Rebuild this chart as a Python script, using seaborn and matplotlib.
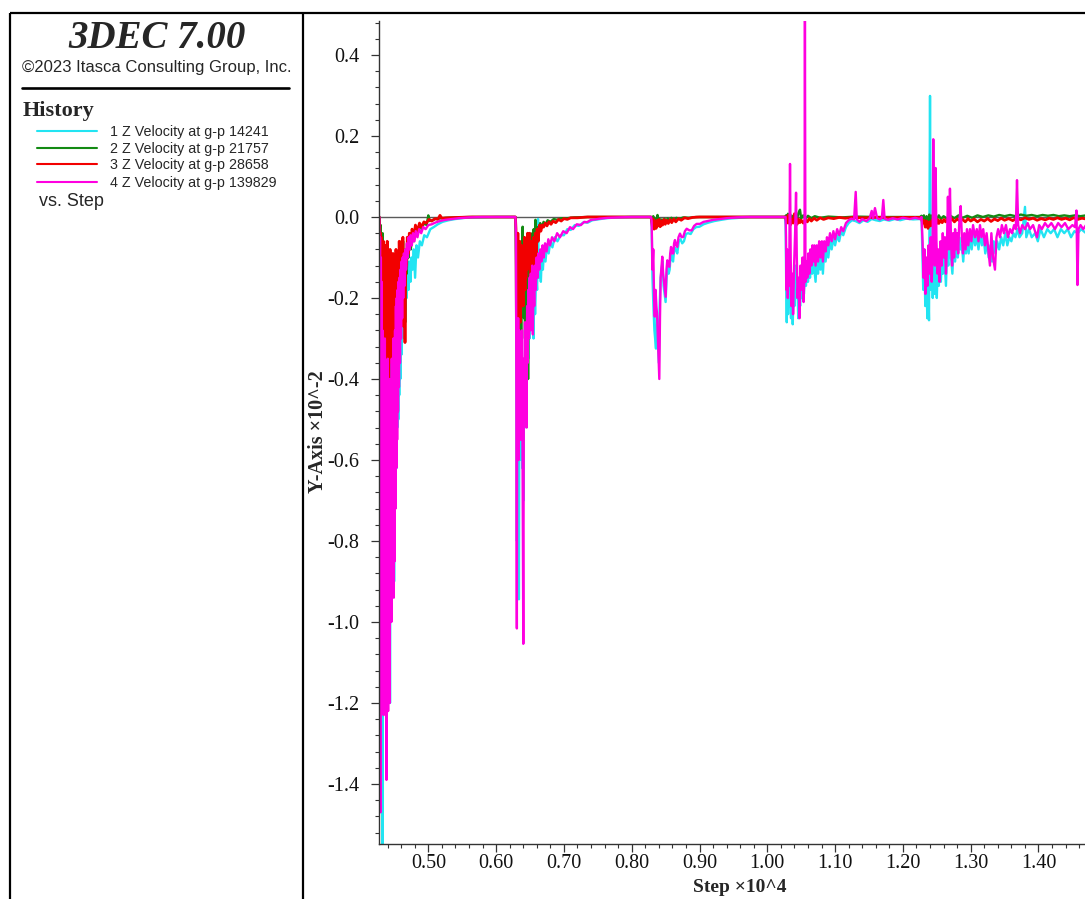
import matplotlib
matplotlib.use("Agg")
import matplotlib.pyplot as plt
import seaborn as sns
import pandas as pd
from matplotlib.lines import Line2D
from matplotlib.ticker import MultipleLocator, FormatStrFormatter

# ---------------- data (Step x10^4, Z velocity x10^-2) ----------------
SERIES_NAMES = ["1 Z Velocity at g-p 14241", "2 Z Velocity at g-p 21757",
                "3 Z Velocity at g-p 28658", "4 Z Velocity at g-p 139829"]
SERIES_COLORS = ["#22E4F2", "#138A13", "#F20000", "#FF00E0"]
SERIES_WIDTHS = [1.7, 1.7, 2.0, 1.7]

# history 1 (cyan)
hist1 = [
    (0.4277, 0.0), (0.4283, -0.50), (0.4289, -0.08), (0.4296, -1.30), (0.4302, -0.12), (0.4309, -1.10),
    (0.4315, -0.20), (0.4321, -1.25), (0.4327, -1.55), (0.4333, -0.30), (0.4339, -1.18), (0.4345, -0.32),
    (0.4351, -1.05), (0.4357, -0.34), (0.4363, -1.20), (0.4369, -0.36), (0.4375, -0.98), (0.4381, -0.40),
    (0.4387, -1.22), (0.4393, -0.38), (0.4399, -1.05), (0.4405, -0.42), (0.4411, -1.18), (0.4417, -0.40),
    (0.4423, -1.00), (0.4429, -0.44), (0.4435, -1.20), (0.4441, -0.40), (0.4447, -0.92), (0.4453, -0.36),
    (0.4459, -0.98), (0.4465, -0.34), (0.4471, -0.85), (0.4477, -0.38), (0.4483, -0.82), (0.4489, -0.30),
    (0.4495, -0.90), (0.4501, -0.35), (0.4507, -0.67), (0.4513, -0.30), (0.4519, -0.50), (0.4525, -0.24),
    (0.4531, -0.62), (0.4537, -0.24), (0.4543, -0.52), (0.4550, -0.25), (0.4557, -0.50), (0.4564, -0.20),
    (0.4571, -0.44), (0.4579, -0.22), (0.4587, -0.40), (0.4595, -0.18), (0.4603, -0.34), (0.4611, -0.20),
    (0.4620, -0.30), (0.4629, -0.16), (0.4638, -0.26), (0.4648, -0.15), (0.4658, -0.23), (0.4669, -0.14),
    (0.4681, -0.20), (0.4694, -0.12), (0.4708, -0.18), (0.4722, -0.11), (0.4737, -0.16), (0.4752, -0.10),
    (0.4768, -0.13), (0.4785, -0.08), (0.4805, -0.15), (0.4825, -0.07), (0.4848, -0.10), (0.4875, -0.06),
    (0.4905, -0.07), (0.4940, -0.045), (0.4980, -0.05), (0.5030, -0.03), (0.5080, -0.025), (0.5140, -0.018),
    (0.5210, -0.012), (0.5300, -0.008), (0.5400, -0.005), (0.5550, -0.002), (0.5800, -0.001), (0.6000, 0.0),
    (0.6285, 0.0),
    (0.6293, -0.10), (0.6300, -0.45), (0.6307, -0.80), (0.6314, -0.33), (0.6321, -0.62), (0.6328, -0.25),
    (0.6336, -0.944), (0.6344, -0.40), (0.6352, -0.60), (0.6360, -0.30), (0.6368, -0.50), (0.6376, -0.33),
    (0.6385, -0.62), (0.6394, -0.42), (0.6403, -0.70), (0.6412, -0.38), (0.6420, -0.52), (0.6428, -0.28),
    (0.6436, -0.45), (0.6445, -0.25), (0.6454, -0.40), (0.6463, -0.22), (0.6472, -0.35), (0.6482, -0.18),
    (0.6492, -0.30), (0.6502, -0.16), (0.6512, -0.28), (0.6522, -0.14), (0.6532, -0.25), (0.6542, -0.12),
    (0.6552, -0.30), (0.6562, -0.16), (0.6575, -0.24), (0.6590, -0.14), (0.6605, -0.18), (0.6618, -0.005),
    (0.6630, -0.15), (0.6645, -0.13), (0.6660, -0.16), (0.6675, -0.09), (0.6690, -0.13), (0.6708, -0.08),
    (0.6728, -0.11), (0.6750, -0.07), (0.6775, -0.09), (0.6800, -0.06), (0.6830, -0.075), (0.6865, -0.05),
    (0.6905, -0.06), (0.6950, -0.045), (0.7000, -0.045), (0.7050, -0.03), (0.7100, -0.032), (0.7160, -0.02),
    (0.7220, -0.022), (0.7290, -0.013), (0.7350, -0.014), (0.7420, -0.008), (0.7500, -0.006), (0.7620, -0.003),
    (0.7780, -0.001), (0.8000, 0.0), (0.8285, 0.0),
    (0.8294, -0.02), (0.8306, -0.15), (0.8320, -0.22), (0.8335, -0.28), (0.8350, -0.31), (0.8358, -0.325),
    (0.8370, -0.24), (0.8385, -0.30), (0.8400, -0.36), (0.8412, -0.22), (0.8427, -0.15), (0.8440, -0.13),
    (0.8455, -0.11), (0.8470, -0.17), (0.8485, -0.19), (0.8500, -0.21), (0.8515, -0.15), (0.8530, -0.12),
    (0.8545, -0.14), (0.8560, -0.13), (0.8575, -0.09), (0.8590, -0.10), (0.8610, -0.11), (0.8630, -0.075),
    (0.8650, -0.08), (0.8672, -0.09), (0.8695, -0.06), (0.8720, -0.055), (0.8745, -0.065), (0.8770, -0.06),
    (0.8800, -0.042), (0.8830, -0.04), (0.8870, -0.042), (0.8910, -0.03), (0.8950, -0.025), (0.9000, -0.024),
    (0.9060, -0.018), (0.9130, -0.014), (0.9220, -0.01), (0.9320, -0.007), (0.9430, -0.004), (0.9580, -0.002),
    (0.9750, 0.0), (1.0260, 0.0),
    (1.0270, -0.02), (1.0278, -0.15), (1.0287, -0.26), (1.0296, -0.12), (1.0306, -0.24), (1.0316, -0.14),
    (1.0326, -0.22), (1.0338, -0.18), (1.0350, -0.25), (1.0362, -0.15), (1.0375, -0.265), (1.0388, -0.18),
    (1.0400, -0.22), (1.0414, -0.12), (1.0428, -0.20), (1.0442, -0.15), (1.0456, -0.25), (1.0470, -0.18),
    (1.0484, -0.22), (1.0498, -0.16), (1.0512, -0.20), (1.0526, -0.14), (1.0540, -0.19), (1.0555, -0.13),
    (1.0570, -0.17), (1.0585, -0.12), (1.0600, -0.16), (1.0615, -0.11), (1.0630, -0.15), (1.0646, -0.10),
    (1.0662, -0.14), (1.0678, -0.10), (1.0695, -0.13), (1.0712, -0.16), (1.0730, -0.10), (1.0748, -0.14),
    (1.0765, -0.09), (1.0785, -0.13), (1.0805, -0.08), (1.0820, -0.14), (1.0840, -0.08), (1.0860, -0.11),
    (1.0880, -0.07), (1.0900, -0.10), (1.0925, -0.06), (1.0950, -0.08), (1.0975, -0.05), (1.1000, -0.07),
    (1.1030, -0.045), (1.1060, -0.06), (1.1090, -0.035), (1.1120, -0.045), (1.1160, -0.025), (1.1200, -0.015),
    (1.1250, -0.008), (1.1300, -0.01), (1.1360, -0.015), (1.1420, -0.008), (1.1480, -0.012), (1.1540, -0.005),
    (1.1600, -0.008), (1.1660, -0.01), (1.1720, -0.006), (1.1800, -0.009), (1.1880, -0.005), (1.1960, -0.008),
    (1.2050, -0.004), (1.2150, -0.006), (1.2252, -0.005),
    (1.2275, 0.0), (1.2288, -0.10), (1.2300, -0.18), (1.2315, -0.08), (1.2330, -0.22), (1.2345, -0.12),
    (1.2360, -0.25), (1.2372, -0.15), (1.2385, -0.255), (1.2400, 0.299), (1.2412, -0.18), (1.2425, -0.10),
    (1.2440, -0.20), (1.2455, -0.12), (1.2470, -0.19), (1.2485, -0.09), (1.2500, -0.20), (1.2515, -0.11),
    (1.2530, -0.17), (1.2546, -0.08), (1.2560, -0.16), (1.2575, -0.10), (1.2590, -0.14), (1.2605, -0.07),
    (1.2620, -0.12), (1.2635, -0.17), (1.2650, -0.09), (1.2670, -0.12), (1.2690, -0.06), (1.2710, -0.10),
    (1.2730, -0.14), (1.2750, -0.07), (1.2770, -0.11), (1.2790, -0.06), (1.2810, -0.10), (1.2830, -0.05),
    (1.2850, -0.08), (1.2870, -0.07), (1.2890, -0.11), (1.2910, -0.06), (1.2930, -0.09), (1.2950, -0.05),
    (1.2970, -0.09), (1.2990, -0.05), (1.3015, -0.08), (1.3040, -0.04), (1.3065, -0.07), (1.3090, -0.05),
    (1.3115, -0.08), (1.3140, -0.04), (1.3165, -0.07), (1.3190, -0.05), (1.3215, -0.09), (1.3240, -0.06),
    (1.3265, -0.10), (1.3290, -0.07), (1.3315, -0.11), (1.3340, -0.06), (1.3365, -0.09), (1.3390, -0.06),
    (1.3420, -0.08), (1.3450, -0.05), (1.3480, -0.07), (1.3510, -0.04), (1.3540, -0.07), (1.3570, -0.05),
    (1.3600, -0.06), (1.3630, -0.04), (1.3660, -0.05), (1.3690, -0.03), (1.3720, -0.05), (1.3760, -0.04),
    (1.3801, 0.025), (1.3820, -0.05), (1.3860, -0.03), (1.3900, -0.05), (1.3950, -0.04), (1.3990, -0.06),
    (1.4030, -0.03), (1.4080, -0.05), (1.4130, -0.03), (1.4180, -0.04), (1.4230, -0.03), (1.4280, -0.05),
    (1.4330, -0.03), (1.4380, -0.04), (1.4430, -0.03), (1.4480, -0.05), (1.4530, -0.035), (1.4580, -0.04),
    (1.4630, -0.03), (1.4700, -0.04), (1.4760, -0.035),
]

# history 2 (green)
hist2 = [
    (0.4277, 0.0), (0.4284, -0.05), (0.4291, -0.22), (0.4298, -0.02), (0.4305, -0.30), (0.4312, -0.08),
    (0.4319, -0.26), (0.4326, -0.04), (0.4333, -0.38), (0.4340, -0.10), (0.4347, -0.42), (0.4354, -0.15),
    (0.4361, -0.33), (0.4368, -0.09), (0.4375, -0.48), (0.4382, -0.20), (0.4389, -0.51), (0.4396, -0.10),
    (0.4403, -0.34), (0.4410, -0.16), (0.4417, -0.40), (0.4424, -0.18), (0.4431, -0.35), (0.4438, -0.10),
    (0.4445, -0.32), (0.4452, -0.15), (0.4459, -0.40), (0.4466, -0.18), (0.4473, -0.30), (0.4480, -0.12),
    (0.4487, -0.26), (0.4494, -0.14), (0.4501, -0.34), (0.4509, -0.16), (0.4517, -0.40), (0.4525, -0.12),
    (0.4533, -0.22), (0.4541, -0.10), (0.4549, -0.30), (0.4557, -0.12), (0.4565, -0.24), (0.4573, -0.08),
    (0.4582, -0.20), (0.4591, -0.10), (0.4600, -0.22), (0.4609, -0.08), (0.4618, -0.16), (0.4628, -0.06),
    (0.4638, -0.24), (0.4648, -0.10), (0.4659, -0.26), (0.4670, -0.10), (0.4682, -0.14), (0.4694, -0.06),
    (0.4708, -0.10), (0.4723, -0.05), (0.4742, -0.08), (0.4762, -0.04), (0.4787, -0.06), (0.4812, -0.03),
    (0.4842, -0.04), (0.4872, -0.02), (0.4902, -0.03), (0.4937, -0.015), (0.4975, -0.02), (0.5000, 0.004),
    (0.5020, -0.01), (0.5060, -0.008), (0.5100, -0.005), (0.5150, -0.004), (0.5250, -0.002), (0.5400, -0.001),
    (0.5600, 0.0), (0.6285, 0.0),
    (0.6293, -0.05), (0.6300, -0.22), (0.6307, -0.10), (0.6314, -0.31), (0.6321, -0.06), (0.6328, -0.26),
    (0.6335, -0.12), (0.6342, -0.34), (0.6349, -0.08), (0.6356, -0.20), (0.6363, -0.14), (0.6370, -0.28),
    (0.6377, -0.06), (0.6384, -0.18), (0.6391, -0.024), (0.6398, -0.20), (0.6405, -0.10), (0.6412, -0.25),
    (0.6419, -0.08), (0.6426, -0.30), (0.6433, -0.12), (0.6440, -0.22), (0.6448, -0.08), (0.6456, -0.33),
    (0.6464, -0.15), (0.6472, -0.40), (0.6480, -0.12), (0.6488, -0.22), (0.6496, -0.06), (0.6505, -0.18),
    (0.6514, -0.05), (0.6523, -0.15), (0.6533, -0.04), (0.6543, -0.12), (0.6554, -0.03), (0.6566, -0.08),
    (0.6580, -0.007), (0.6595, -0.05), (0.6610, -0.025), (0.6630, -0.035), (0.6650, -0.015), (0.6675, -0.025),
    (0.6700, -0.012), (0.6730, -0.018), (0.6760, -0.008), (0.6800, -0.012), (0.6850, -0.005), (0.6900, -0.007),
    (0.6960, -0.003), (0.7050, -0.003), (0.7150, -0.001), (0.7350, 0.0), (0.8285, 0.0),
    (0.8294, -0.005), (0.8305, -0.02), (0.8318, 0.002), (0.8330, -0.025), (0.8345, -0.005), (0.8360, -0.02),
    (0.8380, 0.005), (0.8395, -0.015), (0.8410, -0.004), (0.8428, -0.02), (0.8445, -0.006), (0.8465, -0.016),
    (0.8485, -0.004), (0.8505, -0.014), (0.8530, -0.003), (0.8555, -0.01), (0.8585, -0.002), (0.8620, -0.008),
    (0.8660, -0.002), (0.8700, -0.005), (0.8760, -0.001), (0.8850, -0.002), (0.8950, 0.0), (1.0260, 0.0),
    (1.0276, 0.004), (1.0290, -0.01), (1.0305, 0.008), (1.0320, -0.005), (1.0340, 0.006), (1.0360, -0.008),
    (1.0380, 0.003), (1.0400, -0.006), (1.0420, 0.008), (1.0440, -0.004), (1.0460, 0.010), (1.0482, 0.018),
    (1.0500, -0.004), (1.0530, 0.004), (1.0560, -0.005), (1.0600, 0.003), (1.0650, -0.003), (1.0700, 0.002),
    (1.0780, -0.002), (1.0900, 0.001), (1.1100, -0.001), (1.1300, 0.001), (1.1600, 0.0), (1.2252, 0.0),
    (1.2275, 0.003), (1.2292, -0.01), (1.2310, 0.004), (1.2330, -0.012), (1.2350, 0.002), (1.2370, -0.015),
    (1.2390, 0.006), (1.2410, -0.008), (1.2430, 0.004), (1.2450, -0.01), (1.2470, 0.003), (1.2500, -0.006),
    (1.2530, 0.004), (1.2560, -0.005), (1.2600, 0.002), (1.2650, -0.004), (1.2700, 0.003), (1.2760, -0.003),
    (1.2820, 0.004), (1.2880, -0.002), (1.2950, 0.003), (1.3020, -0.002), (1.3100, 0.004), (1.3180, 0.0),
    (1.3260, 0.004), (1.3340, 0.001), (1.3420, 0.005), (1.3500, 0.002), (1.3580, 0.005), (1.3660, 0.002),
    (1.3740, 0.006), (1.3820, 0.003), (1.3900, 0.005), (1.3980, 0.002), (1.4060, 0.005), (1.4140, 0.003),
    (1.4220, 0.005), (1.4300, 0.002), (1.4380, 0.004), (1.4460, 0.002), (1.4540, 0.004), (1.4620, 0.002),
    (1.4700, 0.004), (1.4760, 0.003),
]

# history 3 (red)
hist3 = [
    (0.4277, 0.0), (0.4283, -0.02), (0.4290, -0.28), (0.4296, -0.04), (0.4303, -0.33), (0.4310, -0.05),
    (0.4317, -0.30), (0.4324, -0.10), (0.4331, -0.40), (0.4338, -0.06), (0.4345, -0.46), (0.4352, -0.12),
    (0.4359, -0.28), (0.4366, -0.07), (0.4373, -0.51), (0.4380, -0.15), (0.4387, -0.36), (0.4394, -0.06),
    (0.4401, -0.30), (0.4408, -0.12), (0.4415, -0.44), (0.4422, -0.14), (0.4429, -0.32), (0.4436, -0.08),
    (0.4443, -0.29), (0.4450, -0.12), (0.4457, -0.36), (0.4464, -0.16), (0.4471, -0.26), (0.4478, -0.09),
    (0.4485, -0.22), (0.4492, -0.10), (0.4499, -0.30), (0.4507, -0.13), (0.4515, -0.24), (0.4523, -0.08),
    (0.4531, -0.20), (0.4539, -0.10), (0.4547, -0.28), (0.4555, -0.09), (0.4563, -0.20), (0.4571, -0.06),
    (0.4580, -0.15), (0.4589, -0.07), (0.4598, -0.18), (0.4607, -0.06), (0.4616, -0.12), (0.4625, -0.05),
    (0.4635, -0.27), (0.4645, -0.09), (0.4656, -0.31), (0.4667, -0.08), (0.4678, -0.12), (0.4690, -0.05),
    (0.4705, -0.09), (0.4720, -0.04), (0.4740, -0.07), (0.4760, -0.03), (0.4785, -0.05), (0.4810, -0.02),
    (0.4840, -0.035), (0.4870, -0.015), (0.4900, -0.025), (0.4935, -0.012), (0.4970, -0.015), (0.5010, -0.006),
    (0.5050, -0.01), (0.5100, -0.004), (0.5140, -0.006), (0.5172, 0.004), (0.5200, -0.003), (0.5300, -0.002),
    (0.5450, -0.001), (0.5650, 0.0), (0.6285, 0.0),
    (0.6293, -0.03), (0.6300, -0.28), (0.6307, -0.08), (0.6314, -0.22), (0.6321, -0.04), (0.6328, -0.30),
    (0.6335, -0.10), (0.6342, -0.18), (0.6349, -0.06), (0.6356, -0.26), (0.6363, -0.12), (0.6370, -0.20),
    (0.6377, -0.07), (0.6384, -0.16), (0.6391, -0.09), (0.6398, -0.22), (0.6405, -0.08), (0.6412, -0.14),
    (0.6419, -0.05), (0.6426, -0.18), (0.6433, -0.10), (0.6440, -0.15), (0.6448, -0.06), (0.6456, -0.13),
    (0.6464, -0.04), (0.6472, -0.12), (0.6480, -0.07), (0.6488, -0.10), (0.6496, -0.04), (0.6505, -0.20),
    (0.6514, -0.06), (0.6523, -0.25), (0.6533, -0.08), (0.6543, -0.18), (0.6554, -0.05), (0.6566, -0.14),
    (0.6578, -0.04), (0.6590, -0.10), (0.6605, -0.03), (0.6620, -0.06), (0.6640, -0.02), (0.6660, -0.035),
    (0.6680, -0.02), (0.6700, -0.025), (0.6725, -0.015), (0.6750, -0.022), (0.6780, -0.012), (0.6810, -0.018),
    (0.6840, -0.01), (0.6880, -0.014), (0.6920, -0.006), (0.6960, -0.01), (0.7000, -0.004), (0.7050, -0.006),
    (0.7100, -0.002), (0.7200, -0.002), (0.7350, 0.0), (0.8285, 0.0),
    (0.8294, -0.01), (0.8305, -0.025), (0.8318, -0.005), (0.8330, -0.03), (0.8345, -0.01), (0.8360, -0.028),
    (0.8375, -0.008), (0.8390, -0.022), (0.8405, -0.006), (0.8420, -0.024), (0.8438, -0.01), (0.8455, -0.02),
    (0.8475, -0.006), (0.8495, -0.018), (0.8515, -0.008), (0.8540, -0.016), (0.8565, -0.006), (0.8590, -0.014),
    (0.8620, -0.005), (0.8650, -0.012), (0.8690, -0.004), (0.8730, -0.008), (0.8780, -0.002), (0.8830, -0.004),
    (0.8900, -0.001), (0.9000, 0.0), (1.0260, 0.0),
    (1.0276, -0.005), (1.0290, -0.015), (1.0305, 0.004), (1.0320, -0.012), (1.0340, -0.02), (1.0360, -0.006),
    (1.0380, -0.015), (1.0400, 0.008), (1.0420, -0.01), (1.0440, -0.018), (1.0460, -0.005), (1.0480, -0.014),
    (1.0500, -0.008), (1.0530, -0.015), (1.0560, -0.006), (1.0590, -0.012), (1.0620, -0.004), (1.0650, -0.01),
    (1.0690, -0.003), (1.0730, -0.008), (1.0780, -0.002), (1.0830, -0.006), (1.0900, -0.002), (1.0980, -0.004),
    (1.1060, -0.001), (1.1150, -0.003), (1.1250, -0.001), (1.1400, -0.002), (1.1600, -0.001), (1.1800, -0.002),
    (1.2000, -0.001), (1.2252, -0.001),
    (1.2275, -0.004), (1.2292, -0.015), (1.2310, -0.008), (1.2330, -0.025), (1.2350, -0.01), (1.2370, -0.028),
    (1.2390, -0.012), (1.2410, -0.022), (1.2430, -0.008), (1.2450, -0.02), (1.2470, -0.01), (1.2490, -0.018),
    (1.2510, -0.006), (1.2530, -0.016), (1.2555, -0.008), (1.2580, -0.014), (1.2605, -0.006), (1.2630, -0.012),
    (1.2660, -0.005), (1.2690, -0.01), (1.2720, -0.004), (1.2760, -0.012), (1.2800, -0.005), (1.2840, -0.01),
    (1.2880, -0.006), (1.2920, -0.012), (1.2960, -0.004), (1.3000, -0.01), (1.3050, -0.005), (1.3100, -0.012),
    (1.3150, -0.006), (1.3200, -0.01), (1.3250, -0.004), (1.3300, -0.011), (1.3350, -0.005), (1.3400, -0.009),
    (1.3450, -0.003), (1.3500, -0.008), (1.3560, -0.004), (1.3620, -0.009), (1.3680, -0.003), (1.3740, -0.007),
    (1.3800, -0.002), (1.3860, -0.006), (1.3920, -0.003), (1.3980, -0.008), (1.4040, -0.004), (1.4100, -0.007),
    (1.4160, -0.003), (1.4220, -0.006), (1.4280, -0.002), (1.4340, -0.006), (1.4400, -0.003), (1.4460, -0.007),
    (1.4520, -0.002), (1.4580, -0.006), (1.4640, -0.003), (1.4700, -0.005), (1.4760, -0.004),
]

# history 4 (magenta)
hist4 = [
    (0.4277, 0.0), (0.4282, -0.60), (0.4287, -0.05), (0.4295, -1.47), (0.4300, -0.10), (0.4306, -1.05),
    (0.4311, -0.16), (0.4317, -1.20), (0.4323, -0.28), (0.4329, -1.10), (0.4335, -0.32), (0.4341, -1.23),
    (0.4347, -0.35), (0.4353, -1.05), (0.4359, -0.30), (0.4365, -1.15), (0.4371, -0.38), (0.4377, -1.00),
    (0.4383, -1.39), (0.4389, -0.42), (0.4395, -1.10), (0.4401, -0.35), (0.4407, -1.22), (0.4413, -0.45),
    (0.4419, -1.05), (0.4425, -0.40), (0.4431, -1.20), (0.4437, -0.50), (0.4443, -0.95), (0.4449, -0.42),
    (0.4455, -1.00), (0.4461, -0.35), (0.4467, -0.90), (0.4473, -0.38), (0.4479, -0.80), (0.4485, -0.30),
    (0.4491, -0.94), (0.4497, -0.32), (0.4503, -0.85), (0.4509, -0.28), (0.4516, -0.72), (0.4522, -0.22),
    (0.4528, -0.62), (0.4534, -0.20), (0.4540, -0.55), (0.4547, -0.18), (0.4553, -0.48), (0.4560, -0.16),
    (0.4567, -0.42), (0.4574, -0.15), (0.4582, -0.36), (0.4590, -0.13), (0.4598, -0.30), (0.4606, -0.11),
    (0.4614, -0.25), (0.4622, -0.10), (0.4630, -0.20), (0.4640, -0.09), (0.4650, -0.17), (0.4660, -0.08),
    (0.4672, -0.13), (0.4684, -0.065), (0.4696, -0.10), (0.4710, -0.05), (0.4725, -0.08), (0.4740, -0.045),
    (0.4757, -0.07), (0.4775, -0.04), (0.4795, -0.06), (0.4815, -0.035), (0.4840, -0.05), (0.4865, -0.03),
    (0.4895, -0.04), (0.4925, -0.025), (0.4960, -0.03), (0.5000, -0.02), (0.5050, -0.018), (0.5100, -0.014),
    (0.5170, -0.01), (0.5250, -0.007), (0.5350, -0.005), (0.5450, -0.003), (0.5600, -0.001), (0.5800, 0.0),
    (0.6285, 0.0),
    (0.6293, -0.05), (0.6300, -0.62), (0.6306, -1.016), (0.6312, -0.30), (0.6318, -0.58), (0.6325, -0.25),
    (0.6332, -0.60), (0.6339, -0.28), (0.6346, -0.48), (0.6353, -0.30), (0.6360, -0.55), (0.6367, -0.30),
    (0.6374, -0.44), (0.6381, -0.28), (0.6390, -0.60), (0.6401, -1.054), (0.6410, -0.35), (0.6418, -0.50),
    (0.6426, -0.26), (0.6434, -0.46), (0.6442, -0.28), (0.6450, -0.52), (0.6458, -0.22), (0.6466, -0.36),
    (0.6475, -0.18), (0.6484, -0.30), (0.6493, -0.15), (0.6502, -0.28), (0.6512, -0.14), (0.6522, -0.26),
    (0.6532, -0.12), (0.6542, -0.29), (0.6552, -0.15), (0.6562, -0.22), (0.6573, -0.12), (0.6585, -0.18),
    (0.6597, -0.10), (0.6610, -0.15), (0.6623, -0.09), (0.6637, -0.13), (0.6652, -0.08), (0.6668, -0.11),
    (0.6685, -0.07), (0.6702, -0.10), (0.6722, -0.065), (0.6745, -0.085), (0.6770, -0.055), (0.6795, -0.07),
    (0.6825, -0.05), (0.6860, -0.06), (0.6900, -0.04), (0.6942, -0.05), (0.6990, -0.035), (0.7040, -0.04),
    (0.7090, -0.025), (0.7134, -0.03), (0.7190, -0.018), (0.7250, -0.02), (0.7300, -0.012), (0.7340, -0.013),
    (0.7400, -0.007), (0.7460, -0.006), (0.7532, -0.004), (0.7650, -0.002), (0.7800, -0.001), (0.8000, 0.0),
    (0.8285, 0.0),
    (0.8294, -0.01), (0.8306, -0.13), (0.8318, -0.08), (0.8330, -0.20), (0.8340, -0.246), (0.8352, -0.18),
    (0.8364, -0.22), (0.8374, -0.24), (0.8390, -0.32), (0.8407, -0.40), (0.8417, -0.25), (0.8427, -0.15),
    (0.8440, -0.12), (0.8451, -0.098), (0.8463, -0.14), (0.8476, -0.16), (0.8490, -0.18), (0.8501, -0.197),
    (0.8513, -0.13), (0.8525, -0.107), (0.8540, -0.12), (0.8555, -0.123), (0.8568, -0.09), (0.8580, -0.074),
    (0.8597, -0.09), (0.8613, -0.09), (0.8625, -0.065), (0.8638, -0.057), (0.8655, -0.07), (0.8672, -0.074),
    (0.8690, -0.05), (0.8712, -0.041), (0.8735, -0.05), (0.8761, -0.049), (0.8785, -0.035), (0.8811, -0.029),
    (0.8850, -0.033), (0.8885, -0.033), (0.8920, -0.022), (0.8958, -0.017), (0.9007, -0.017), (0.9060, -0.012),
    (0.9120, -0.01), (0.9200, -0.007), (0.9300, -0.005), (0.9400, -0.003), (0.9550, -0.001), (0.9700, 0.0),
    (1.0260, 0.0),
    (1.0270, 0.0), (1.0276, -0.05), (1.0282, -0.18), (1.0292, -0.08), (1.0302, -0.20), (1.0312, -0.12),
    (1.0322, -0.17), (1.0335, 0.131), (1.0345, -0.10), (1.0355, -0.22), (1.0368, -0.14), (1.0380, -0.24),
    (1.0395, -0.12), (1.0410, -0.04), (1.0424, 0.060), (1.0435, -0.10), (1.0447, -0.20), (1.0460, -0.15),
    (1.0475, -0.25), (1.0490, -0.12), (1.0505, -0.18), (1.0520, -0.10), (1.0535, -0.21), (1.0548, -0.14),
    (1.0555, 0.485), (1.0563, -0.16), (1.0575, -0.11), (1.0590, -0.15), (1.0605, -0.09), (1.0620, -0.14),
    (1.0635, -0.08), (1.0650, -0.12), (1.0665, -0.07), (1.0680, -0.11), (1.0695, -0.07), (1.0712, -0.12),
    (1.0730, -0.07), (1.0748, -0.11), (1.0765, -0.06), (1.0785, -0.10), (1.0805, -0.06), (1.0820, -0.11),
    (1.0840, -0.06), (1.0860, -0.085), (1.0880, -0.05), (1.0900, -0.07), (1.0925, -0.04), (1.0950, -0.06),
    (1.0975, -0.035), (1.1000, -0.055), (1.1030, -0.03), (1.1060, -0.045), (1.1090, -0.025), (1.1120, -0.035),
    (1.1160, -0.015), (1.1200, -0.008), (1.1240, -0.004), (1.1280, -0.006), (1.1304, 0.062), (1.1320, -0.006),
    (1.1360, -0.012), (1.1400, -0.005), (1.1460, -0.01), (1.1510, -0.003), (1.1540, 0.015), (1.1560, -0.004),
    (1.1588, 0.022), (1.1620, -0.003), (1.1660, -0.006), (1.1690, -0.002), (1.1711, 0.042), (1.1730, -0.004),
    (1.1780, -0.007), (1.1850, -0.003), (1.1920, -0.006), (1.2000, -0.002), (1.2100, -0.005), (1.2180, -0.002),
    (1.2252, -0.005),
    (1.2275, 0.0), (1.2290, -0.06), (1.2305, -0.15), (1.2318, -0.08), (1.2332, -0.19), (1.2348, -0.10),
    (1.2362, -0.17), (1.2378, -0.07), (1.2392, -0.14), (1.2410, -0.05), (1.2425, -0.16), (1.2438, -0.09),
    (1.2448, 0.192), (1.2460, -0.07), (1.2472, -0.12), (1.2483, 0.121), (1.2495, -0.06), (1.2510, -0.14),
    (1.2525, -0.08), (1.2540, -0.16), (1.2556, -0.06), (1.2572, -0.12), (1.2588, -0.04), (1.2605, -0.10),
    (1.2620, -0.05), (1.2635, -0.14), (1.2650, -0.07), (1.2664, 0.050), (1.2680, -0.08), (1.2694, 0.070),
    (1.2710, -0.06), (1.2725, -0.12), (1.2740, -0.04), (1.2755, -0.10), (1.2770, -0.03), (1.2785, -0.08),
    (1.2800, -0.04), (1.2815, -0.09), (1.2830, -0.02), (1.2852, 0.027), (1.2870, -0.05), (1.2886, -0.09),
    (1.2905, -0.04), (1.2925, -0.08), (1.2945, -0.03), (1.2965, -0.07), (1.2989, -0.03), (1.3010, -0.06),
    (1.3035, -0.02), (1.3063, -0.05), (1.3090, -0.03), (1.3115, -0.06), (1.3137, -0.02), (1.3160, -0.05),
    (1.3185, -0.03), (1.3210, -0.07), (1.3235, -0.04), (1.3260, -0.08), (1.3284, -0.12), (1.3305, -0.04),
    (1.3330, -0.10), (1.3358, -0.13), (1.3380, -0.05), (1.3405, -0.03), (1.3432, -0.05), (1.3460, -0.02),
    (1.3490, -0.04), (1.3520, -0.02), (1.3550, -0.05), (1.3580, -0.03), (1.3610, -0.04), (1.3640, -0.02),
    (1.3665, -0.03), (1.3683, 0.091), (1.3700, -0.02), (1.3727, -0.04), (1.3760, -0.02), (1.3801, -0.03),
    (1.3840, -0.015), (1.3875, -0.03), (1.3920, -0.02), (1.3978, -0.05), (1.4010, -0.02), (1.4050, -0.03),
    (1.4096, -0.015), (1.4140, -0.025), (1.4190, -0.015), (1.4243, -0.03), (1.4290, -0.015), (1.4340, -0.025),
    (1.4391, -0.015), (1.4440, -0.03), (1.4500, -0.02), (1.4539, -0.025), (1.4560, 0.016), (1.4575, -0.168),
    (1.4590, -0.03), (1.4620, -0.02), (1.4660, -0.03), (1.4700, -0.02), (1.4760, -0.025),
]

Y_TICKS = [-1.4, -1.2, -1.0, -0.8, -0.6, -0.4, -0.2, 0.0, 0.2, 0.4]
X_TICKS = [0.50, 0.60, 0.70, 0.80, 0.90, 1.00, 1.10, 1.20, 1.30, 1.40]

# ---------------- figure ----------------
sns.set_theme(style="white")
plt.rcParams["font.family"] = ["Liberation Sans", "DejaVu Sans"]
plt.rcParams["axes.unicode_minus"] = False

W, H = 1085, 899
fig = plt.figure(figsize=(W / 100, H / 100), dpi=100)
fig.patch.set_facecolor("white")


def fx(px):
    return px / W


def fy(py):
    return 1 - py / H


ax_l, ax_r, ax_t, ax_b = 379.3, 1085.0, 20.7, 844.3
ax = fig.add_axes([fx(ax_l), fy(ax_b), fx(ax_r) - fx(ax_l), fy(ax_t) - fy(ax_b)])
ax.set_facecolor("white")

frames = []
for name, hist in zip(SERIES_NAMES, [hist1, hist2, hist3, hist4]):
    frames.append(pd.DataFrame({"step": [p[0] for p in hist],
                                "vel": [p[1] for p in hist],
                                "history": name}))
df = pd.concat(frames, ignore_index=True)

ax.axhline(0.0, color="#5a5a5a", lw=1.0, zorder=0.5)
for name, color, lw in zip(SERIES_NAMES, SERIES_COLORS, SERIES_WIDTHS):
    sns.lineplot(data=df[df["history"] == name], x="step", y="vel", color=color,
                 lw=lw, ax=ax, sort=False, estimator=None, legend=False, zorder=2)

ax.set_xlim(0.4277, 1.4686)
ax.set_ylim(-1.549, 0.4847)
ax.set_xticks(X_TICKS)
ax.set_yticks(Y_TICKS)
ax.xaxis.set_minor_locator(MultipleLocator(0.02))
ax.yaxis.set_minor_locator(MultipleLocator(0.04))
ax.xaxis.set_major_formatter(FormatStrFormatter("%.2f"))
ax.yaxis.set_major_formatter(FormatStrFormatter("%.1f"))
ax.set_xlabel("")
ax.set_ylabel("")
for s in ["top", "right"]:
    ax.spines[s].set_visible(False)
for s in ["left", "bottom"]:
    ax.spines[s].set_color("#333333")
    ax.spines[s].set_linewidth(1.0)
ax.tick_params(axis="both", which="major", direction="out", length=5.6, width=0.9,
               color="#333333", labelcolor="#111111", labelsize=14.5)
ax.tick_params(axis="both", which="minor", direction="out", length=2.8, width=0.8,
               color="#333333")
ax.tick_params(axis="y", which="major", pad=9)
ax.tick_params(axis="x", which="major", pad=1.5)
ax.tick_params(bottom=True, left=True, which="both")
for lab in ax.get_xticklabels() + ax.get_yticklabels():
    lab.set_fontfamily("Liberation Serif")

fig.text(fx(740), fy(887), "Step \u00d710^4", ha="center", va="center",
         fontsize=14, fontweight="bold", family="Liberation Serif")
fig.text(fx(318), fy(432), "Y-Axis \u00d710^-2", ha="center", va="center", rotation=90,
         fontsize=14.5, fontweight="bold", family="Liberation Serif")

# ---------------- left panel ----------------
frame_kw = dict(color="black", lw=1.6, solid_capstyle="butt")
fig.add_artist(Line2D([fx(10), fx(1085)], [fy(12.7), fy(12.7)], **frame_kw))
fig.add_artist(Line2D([fx(10), fx(10)], [fy(12.7), fy(899)], **frame_kw))
fig.add_artist(Line2D([fx(303), fx(303)], [fy(12.7), fy(899)], **frame_kw))

fig.text(fx(157), fy(48), "3DEC 7.00", ha="center", va="baseline", fontsize=28,
         fontweight="bold", fontstyle="italic", family="Liberation Serif")
fig.text(fx(157), fy(72), "\u00a92023 Itasca Consulting Group, Inc.", ha="center",
         va="baseline", fontsize=12, family="Liberation Sans")
fig.add_artist(Line2D([fx(22), fx(289)], [fy(88.3), fy(88.3)], color="black", lw=1.9))
fig.text(fx(23), fy(116), "History", ha="left", va="baseline", fontsize=16,
         fontweight="bold", family="Liberation Serif")

legend_y = [130.7, 147.5, 164.3, 181.5]
for name, color, ly in zip(SERIES_NAMES, SERIES_COLORS, legend_y):
    fig.add_artist(Line2D([fx(37), fx(97)], [fy(ly), fy(ly)], color=color, lw=1.5))
    fig.text(fx(110), fy(ly + 1), name, ha="left", va="center", fontsize=10.3,
             family="Liberation Sans")
fig.text(fx(39), fy(201), "vs. Step", ha="left", va="center", fontsize=13,
         family="Liberation Sans")

fig.savefig("out.png", dpi=100, facecolor="white")
